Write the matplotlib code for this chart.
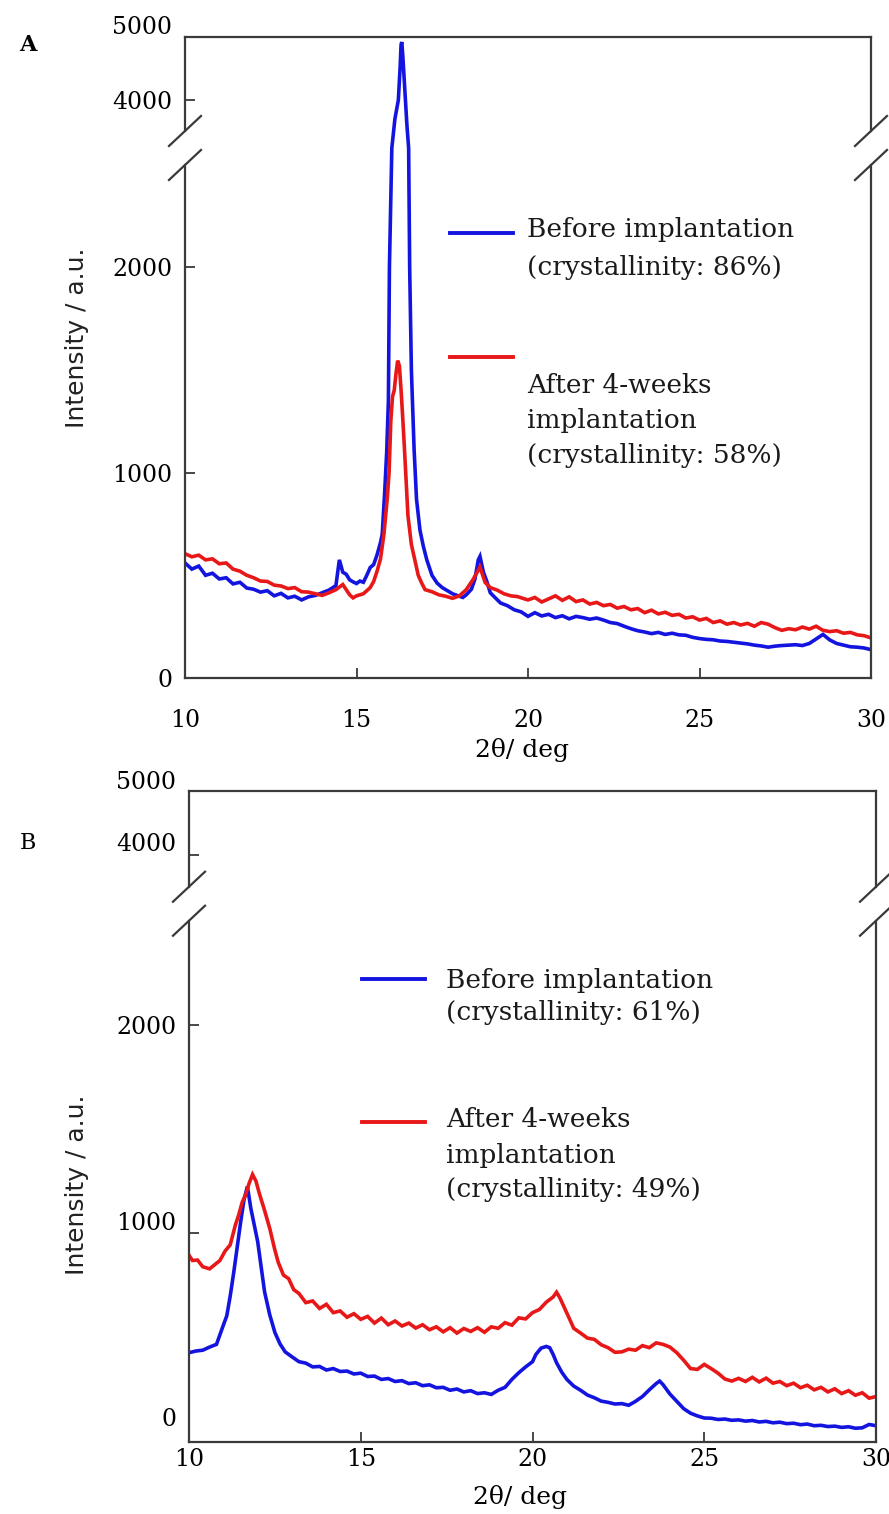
import numpy as np
import matplotlib
matplotlib.use("Agg")
import matplotlib.pyplot as plt
from matplotlib.lines import Line2D
from matplotlib.transforms import ScaledTranslation

plt.rcParams["font.family"] = ["DejaVu Serif"]

# ---- data (2theta in deg, intensity in a.u.) ----
a_before_x = [10.0, 10.2, 10.4, 10.6, 10.8, 11.0, 11.2, 11.4, 11.6, 11.8, 12.0, 12.2, 12.4, 12.6, 12.8,
              13.0, 13.2, 13.4, 13.6, 13.8, 14.0, 14.2, 14.4, 14.5, 14.6, 14.7, 14.8, 14.9, 15.0, 15.1,
              15.2, 15.3, 15.4, 15.5, 15.6, 15.7, 15.75, 15.82, 15.88, 15.93, 15.96, 16.03, 16.12, 16.22,
              16.27, 16.3, 16.32, 16.35, 16.4, 16.43, 16.47, 16.52, 16.55, 16.6, 16.68, 16.75, 16.85,
              16.95, 17.05, 17.2, 17.35, 17.5, 17.65, 17.8, 18.0, 18.1, 18.2, 18.35, 18.45, 18.55, 18.6,
              18.7, 18.8, 18.9, 19.0, 19.2, 19.4, 19.6, 19.8, 20.0, 20.2, 20.4, 20.6, 20.8, 21.0, 21.2,
              21.4, 21.6, 21.8, 22.0, 22.2, 22.4, 22.6, 22.8, 23.0, 23.2, 23.4, 23.6, 23.8, 24.0, 24.2,
              24.4, 24.6, 24.8, 25.0, 25.2, 25.4, 25.6, 25.8, 26.0, 26.2, 26.4, 26.6, 26.8, 27.0, 27.2,
              27.4, 27.6, 27.8, 28.0, 28.2, 28.4, 28.6, 28.8, 29.0, 29.2, 29.4, 29.6, 29.8, 30.0]
a_before_y = [560, 530, 545, 500, 510, 482, 488, 458, 466, 438, 432, 418, 425, 400, 412,
              390, 398, 380, 395, 402, 415, 428, 450, 575, 515, 505, 478, 468, 460, 472,
              466, 500, 538, 552, 600, 660, 700, 900, 1100, 1350, 2000, 2580, 3700, 4000,
              4500, 4880, 4920, 4700, 4250, 4000, 3600, 2600, 2000, 1500, 1110, 870, 720,
              640, 575, 500, 462, 440, 425, 410, 398, 392, 405, 432, 480, 575, 592,
              515, 470, 415, 398, 365, 352, 332, 322, 300, 318, 302, 310, 294, 303, 288,
              300, 294, 286, 292, 282, 270, 265, 252, 240, 230, 224, 216, 222, 212, 218,
              210, 208, 198, 192, 188, 186, 180, 178, 174, 170, 166, 160, 156, 150, 155,
              158, 160, 162, 158, 168, 190, 212, 185, 168, 160, 152, 150, 146, 138]

a_after_x = [10.0, 10.2, 10.4, 10.6, 10.8, 11.0, 11.2, 11.4, 11.6, 11.8, 12.0, 12.2, 12.4, 12.6, 12.8,
             13.0, 13.2, 13.4, 13.6, 13.8, 14.0, 14.2, 14.4, 14.6, 14.8, 14.9, 15.0, 15.2, 15.4, 15.5,
             15.6, 15.7, 15.8, 15.9, 15.95, 16.0, 16.05, 16.1, 16.15, 16.2, 16.25, 16.3, 16.35, 16.4,
             16.45, 16.5, 16.6, 16.7, 16.8, 16.9, 17.0, 17.2, 17.4, 17.6, 17.8, 18.0, 18.2, 18.4, 18.6,
             18.75, 18.9, 19.1, 19.3, 19.5, 19.7, 19.9, 20.0, 20.2, 20.4, 20.6, 20.8, 21.0, 21.2, 21.4,
             21.6, 21.8, 22.0, 22.2, 22.4, 22.6, 22.8, 23.0, 23.2, 23.4, 23.6, 23.8, 24.0, 24.2, 24.4,
             24.6, 24.8, 25.0, 25.2, 25.4, 25.6, 25.8, 26.0, 26.2, 26.4, 26.6, 26.8, 27.0, 27.2, 27.4,
             27.6, 27.8, 28.0, 28.2, 28.4, 28.6, 28.8, 29.0, 29.2, 29.4, 29.6, 29.8, 30.0]
a_after_y = [605, 590, 598, 575, 580, 556, 560, 530, 520, 500, 488, 472, 470, 452, 448,
             435, 440, 420, 418, 410, 402, 415, 430, 455, 405, 390, 400, 410, 440, 470,
             520, 580, 700, 880, 1000, 1250, 1370, 1400, 1480, 1545, 1520, 1400, 1260, 1110,
             950, 790, 650, 575, 500, 462, 430, 420, 405, 398, 388, 400, 430, 480, 540,
             465, 440, 428, 410, 400, 396, 385, 380, 392, 370, 385, 400, 378, 395, 372,
             380, 360, 368, 352, 358, 340, 348, 332, 338, 318, 330, 312, 320, 305, 310,
             292, 298, 282, 290, 270, 278, 262, 270, 258, 266, 252, 270, 262, 245, 232,
             240, 235, 248, 238, 252, 232, 226, 230, 218, 222, 210, 206, 195]

b_before_x = [10.0, 10.2, 10.4, 10.6, 10.8, 11.0, 11.1, 11.2, 11.3, 11.4, 11.5, 11.6, 11.7, 11.8, 11.9,
              12.0, 12.1, 12.2, 12.35, 12.5, 12.65, 12.8, 13.0, 13.2, 13.4, 13.6, 13.8, 14.0, 14.2, 14.4,
              14.6, 14.8, 15.0, 15.2, 15.4, 15.6, 15.8, 16.0, 16.2, 16.4, 16.6, 16.8, 17.0, 17.2, 17.4,
              17.6, 17.8, 18.0, 18.2, 18.4, 18.6, 18.8, 19.0, 19.2, 19.4, 19.6, 19.8, 20.0, 20.1, 20.25,
              20.4, 20.5, 20.6, 20.7, 20.85, 21.0, 21.2, 21.4, 21.6, 21.8, 22.0, 22.2, 22.4, 22.6, 22.8,
              23.0, 23.2, 23.4, 23.6, 23.7, 23.8, 24.0, 24.2, 24.4, 24.6, 24.8, 25.0, 25.2, 25.4, 25.6,
              25.8, 26.0, 26.2, 26.4, 26.6, 26.8, 27.0, 27.2, 27.4, 27.6, 27.8, 28.0, 28.2, 28.4, 28.6,
              28.8, 29.0, 29.2, 29.4, 29.6, 29.8, 30.0]
b_before_y = [428, 436, 440, 455, 468, 560, 605, 700, 810, 930, 1050, 1160, 1225, 1120, 1040,
              960, 840, 720, 610, 525, 470, 432, 408, 385, 378, 360, 362, 345, 352, 338,
              340, 326, 330, 314, 316, 300, 304, 290, 294, 280, 284, 270, 274, 260, 262,
              248, 254, 240, 246, 232, 236, 228, 248, 262, 300, 332, 360, 385, 420, 450,
              458, 452, 420, 380, 335, 300, 268, 248, 225, 212, 196, 190, 182, 184, 176,
              195, 218, 250, 280, 292, 275, 230, 195, 160, 138, 125, 115, 114, 108, 110,
              104, 106, 100, 103, 96, 99, 92, 95, 88, 90, 83, 86, 78, 80, 74,
              76, 70, 73, 66, 68, 84, 78]

b_after_x = [10.0, 10.1, 10.25, 10.4, 10.6, 10.75, 10.9, 11.05, 11.2, 11.35, 11.45, 11.55, 11.65, 11.75,
             11.85, 11.95, 12.05, 12.2, 12.35, 12.5, 12.6, 12.75, 12.9, 13.05, 13.2, 13.4, 13.6, 13.8,
             14.0, 14.2, 14.4, 14.6, 14.8, 15.0, 15.2, 15.4, 15.6, 15.8, 16.0, 16.2, 16.4, 16.6, 16.8,
             17.0, 17.2, 17.4, 17.6, 17.8, 18.0, 18.2, 18.4, 18.6, 18.8, 19.0, 19.2, 19.4, 19.6, 19.8,
             20.0, 20.2, 20.4, 20.6, 20.7, 20.8, 20.9, 21.05, 21.2, 21.4, 21.6, 21.8, 22.0, 22.2, 22.4,
             22.6, 22.8, 23.0, 23.2, 23.4, 23.6, 23.8, 24.0, 24.2, 24.4, 24.6, 24.8, 25.0, 25.2, 25.4,
             25.6, 25.8, 26.0, 26.2, 26.4, 26.6, 26.8, 27.0, 27.2, 27.4, 27.6, 27.8, 28.0, 28.2, 28.4,
             28.6, 28.8, 29.0, 29.2, 29.4, 29.6, 29.8, 30.0]
b_after_y = [895, 870, 872, 840, 830, 850, 870, 915, 945, 1040, 1090, 1150, 1185, 1240,
             1282, 1250, 1190, 1110, 1024, 920, 860, 800, 783, 730, 712, 668, 676, 640,
             660, 620, 628, 598, 615, 588, 602, 570, 594, 562, 580, 556, 570, 546, 562,
             538, 552, 528, 548, 522, 544, 530, 548, 526, 552, 545, 572, 560, 595, 590,
             620, 635, 670, 695, 718, 690, 654, 600, 545, 522, 498, 492, 466, 452, 430,
             432, 445, 440, 462, 452, 475, 468, 455, 428, 392, 352, 348, 372, 352, 330,
             302, 292, 305, 290, 310, 288, 306, 282, 290, 270, 282, 260, 272, 250, 262,
             240, 255, 232, 246, 224, 236, 210, 218]

y_ticks = [0, 1000, 2000, 4000, 5000]
x_ticks = [10, 15, 20, 25, 30]
legend_a = [["Before implantation", "(crystallinity: 86%)"],
            ["After 4-weeks", "implantation", "(crystallinity: 58%)"]]
legend_b = [["Before implantation", "(crystallinity: 61%)"],
            ["After 4-weeks", "implantation", "(crystallinity: 49%)"]]

BLUE, RED, SPINE = "#1414e0", "#e81818", "#3a3a3a"

# broken y axis: 0..B_LO linear, B_LO..B_HI squeezed out, above B_HI compressed by K
B_LO, B_HI, EPS, K = 2580.0, 3240.0, 0.001, 0.3066
F_GAP = B_LO + (B_HI - B_LO) * EPS

def fwd(y):
    y = np.asarray(y, float)
    return np.where(y <= B_LO, y,
                    np.where(y <= B_HI, B_LO + (y - B_LO) * EPS, F_GAP + (y - B_HI) * K))

def inv(f):
    f = np.asarray(f, float)
    return np.where(f <= B_LO, f,
                    np.where(f <= F_GAP, B_LO + (f - B_LO) / EPS, B_HI + (f - F_GAP) / K))

W, H = 889, 1514
fig = plt.figure(figsize=(W / 100, H / 100), dpi=100)

def fx(x):
    return x / W

def fy(y):
    return 1 - y / H

def panel(rect_px, xs, ys, legend, leg_px, xpad, ylab_shift):
    l, t, r, b = rect_px
    ax = fig.add_axes([fx(l), fy(b), (r - l) / W, (b - t) / H])
    for x, y, c in zip(xs, ys, (BLUE, RED)):
        ax.plot(x, y, color=c, lw=2.6, solid_joinstyle="miter")
    ax.set_yscale("function", functions=(fwd, inv))
    ax.set_xlim(10, 30)
    ax.set_ylim(0, 5000)
    ax.set_xticks(x_ticks)
    ax.set_yticks(y_ticks)
    ax.set_yticklabels([str(v) for v in y_ticks])
    ax.tick_params(axis="both", direction="in", length=7, width=1.3, color=SPINE, labelsize=17)
    ax.tick_params(axis="x", pad=xpad)
    ax.tick_params(axis="y", pad=9)
    for lab, dy in zip(ax.get_yticklabels(), ylab_shift):
        lab.set_transform(lab.get_transform() + ScaledTranslation(0, dy / 100, fig.dpi_scale_trans))
    for s in ("top", "bottom"):
        ax.spines[s].set_color(SPINE)
        ax.spines[s].set_linewidth(1.6)
    ax.spines["left"].set_visible(False)
    ax.spines["right"].set_visible(False)

    # side spines with the break marks
    hpx, wpx = b - t, r - l
    yb = float(fwd(B_LO) / fwd(5000))
    gap = 17 / hpx
    ddx, ddy = 16 / wpx, 15 / hpx
    kw = dict(transform=ax.transAxes, clip_on=False, color=SPINE, lw=1.6)
    for xs0 in (0, 1):
        ax.plot([xs0, xs0], [0, yb - gap], **kw)
        ax.plot([xs0, xs0], [yb + gap, 1], **kw)
        for yc in (yb - gap, yb + gap):
            ax.plot([xs0 - ddx, xs0 + ddx], [yc - ddy, yc + ddy], **kw)

    # legend drawn by hand as in the original
    lx0, lx1, line_ys, tx, baselines = leg_px
    for ly, c in zip(line_ys, (BLUE, RED)):
        fig.add_artist(Line2D([fx(lx0), fx(lx1)], [fy(ly), fy(ly)], color=c, lw=2.8))
    for lines, bases in zip(legend, baselines):
        for s, yb_px in zip(lines, bases):
            fig.text(fx(tx), fy(yb_px), s, fontsize=19, va="baseline", ha="left", color="#1a1a1a")
    return ax

axA = panel((185, 37, 871, 678), [a_before_x, a_after_x], [a_before_y, a_after_y], legend_a,
            (450, 513, (233, 357), 527, ((237, 275), (393, 428, 463))), 22, [0, 0, 0, 0, 12])
axB = panel((189, 791, 876, 1442), [b_before_x, b_after_x], [b_before_y, b_after_y], legend_b,
            (362, 425, (979, 1122), 446, ((988, 1020), (1127, 1163, 1197))), 4, [25, 12, 0, 13, 11])

for yc in (338, 1185):
    fig.text(fx(77), fy(yc), "Intensity / a.u.", rotation=90, ha="center", va="center",
             fontsize=18, family=["DejaVu Sans"], color="#222222")
fig.text(fx(522), fy(750), "2\u03b8/ deg", ha="center", va="center", fontsize=18)
fig.text(fx(520), fy(1497), "2\u03b8/ deg", ha="center", va="center", fontsize=18)
fig.text(fx(28), fy(45), "A", ha="center", va="center", fontsize=16, weight="bold")
fig.text(fx(28), fy(843), "B", ha="center", va="center", fontsize=16)

fig.savefig("out.png", dpi=100)
